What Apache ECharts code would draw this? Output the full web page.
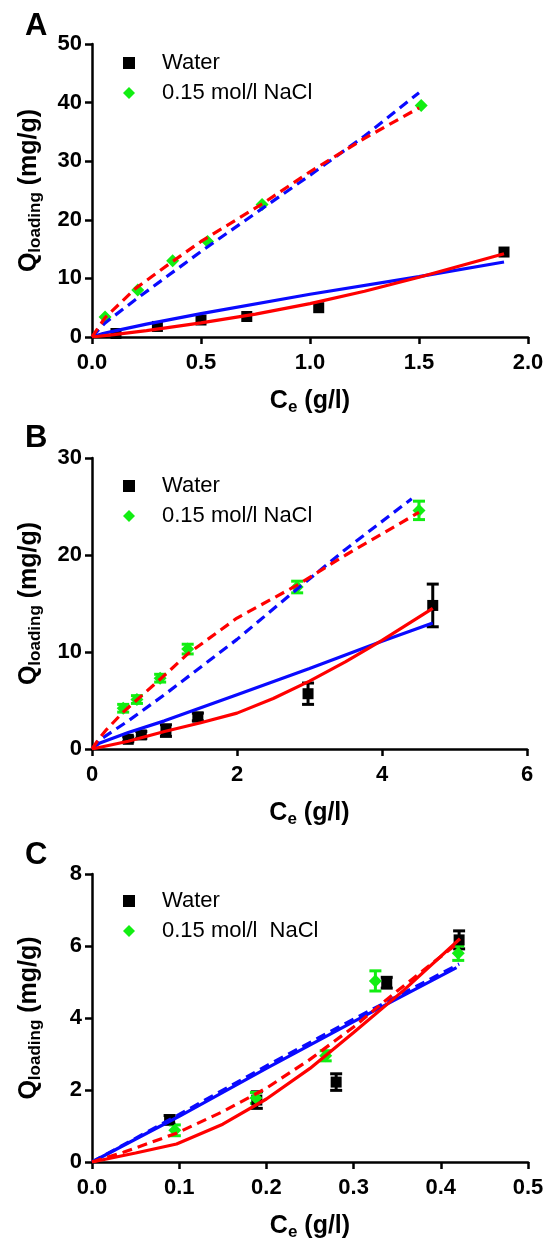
<!DOCTYPE html>
<html><head><meta charset="utf-8">
<script src="https://cdn.jsdelivr.net/npm/echarts@6/dist/echarts.min.js"></script>
<style>html,body{margin:0;padding:0;background:#fff}#c{width:547px;height:1242px}</style>
</head><body><div id="c"></div>
<script>
// ---------- Panel A data ----------
const waterA_x = [0.11, 0.30, 0.50, 0.71, 1.04, 1.89];
const waterA_y = [0.6, 1.8, 2.9, 3.5, 5.0, 14.5];
const naclA_x = [0.06, 0.21, 0.37, 0.53, 0.78, 1.51];
const naclA_y = [3.4, 8.0, 13.0, 16.3, 22.6, 39.5];
const blueSolidA_x = [0, 0.05, 0.1, 0.25, 0.5, 1.0, 1.5, 1.89];
const blueSolidA_y = [0, 0.6, 1.0, 2.2, 4.0, 7.3, 10.3, 12.8];
const redSolidA_x = [0, 0.1, 0.25, 0.5, 0.75, 1.0, 1.25, 1.5, 1.89];
const redSolidA_y = [0, 0.4, 1.1, 2.4, 3.9, 5.7, 7.8, 10.2, 14.2];
const blueDashA_x = [0, 0.06, 0.2, 0.5, 0.78, 1.0, 1.25, 1.5];
const blueDashA_y = [0, 2.4, 6.4, 14.6, 21.9, 27.6, 34.3, 41.7];
const redDashA_x = [0, 0.06, 0.2, 0.37, 0.5, 0.78, 1.0, 1.25, 1.5];
const redDashA_y = [0, 3.3, 8.3, 12.9, 16.3, 22.7, 28.2, 33.9, 39.1];

// ---------- Panel B data ----------
const waterB_x = [0.50, 0.68, 1.02, 1.46, 2.98, 4.70];
const waterB_y = [1.0, 1.45, 1.9, 3.3, 5.7, 14.8];
const waterB_err = [0.25, 0.35, 0.6, 0.4, 1.1, 2.2];
const naclB_x = [0.43, 0.62, 0.94, 1.32, 2.83, 4.51];
const naclB_y = [4.2, 5.1, 7.3, 10.3, 16.7, 24.6];
const naclB_err = [0.4, 0.4, 0.4, 0.5, 0.6, 0.95];
const blueSolidB_x = [0, 0.1, 0.5, 1, 2, 3, 4, 4.7];
const blueSolidB_y = [0, 0.6, 1.7, 2.9, 5.6, 8.3, 11.1, 13.0];
const redSolidB_x = [0, 0.5, 1, 1.5, 2, 2.5, 3, 3.5, 4, 4.7];
const redSolidB_y = [0, 0.8, 1.8, 2.7, 3.7, 5.2, 7.0, 9.0, 11.2, 14.5];
const blueDashB_x = [0, 0.1, 0.5, 1, 2, 2.83, 3.5, 4.41];
const blueDashB_y = [0, 0.9, 2.9, 5.6, 11.3, 16.5, 20.6, 25.8];
const redDashB_x = [0, 0.1, 0.2, 0.43, 1, 1.32, 2, 2.83, 3.5, 4.51];
const redDashB_y = [0, 1.1, 2.0, 3.8, 7.6, 9.8, 13.5, 16.9, 20.0, 24.4];

// ---------- Panel C data ----------
const waterC_x = [0.089, 0.189, 0.280, 0.338, 0.421];
const waterC_y = [1.17, 1.72, 2.22, 4.98, 6.17];
const waterC_err = [0.12, 0.23, 0.23, 0.15, 0.25];
const naclC_x = [0.095, 0.188, 0.268, 0.325, 0.420];
const naclC_y = [0.88, 1.78, 2.95, 5.03, 5.80];
const naclC_err = [0.15, 0.15, 0.14, 0.28, 0.2];
const blueSolidC_x = [0, 0.1, 0.2, 0.3, 0.418];
const blueSolidC_y = [0, 1.27, 2.6, 3.9, 5.4];
const blueDashC_x = [0, 0.1, 0.2, 0.3, 0.421];
const blueDashC_y = [0, 1.32, 2.67, 3.97, 5.5];
const redDashC_x = [0, 0.036, 0.097, 0.15, 0.2, 0.25, 0.3, 0.35, 0.418];
const redDashC_y = [0, 0.27, 0.8, 1.4, 2.05, 2.85, 3.75, 4.75, 6.05];
const redSolidC_x = [0, 0.05, 0.097, 0.15, 0.2, 0.25, 0.3, 0.357, 0.422];
const redSolidC_y = [0, 0.25, 0.5, 1.05, 1.75, 2.6, 3.6, 4.76, 6.2];

// ---------- tick / label text ----------
const panelLabels = ['A', 'B', 'C'];
const legendNames = ['Water', '0.15 mol/l NaCl'];
const legendNamesC = ['Water', '0.15 mol/l  NaCl'];

const F = '"Liberation Sans", Arial, sans-serif';
const BLUE = '#0a0aff', RED = '#ff0000', GREEN = '#12ee12', BLACK = '#000';

function pairs(xs, ys) { return xs.map((x, i) => [x, ys[i]]); }
function errs(xs, ys, es) { return xs.map((x, i) => [x, ys[i] - es[i], ys[i] + es[i]]); }

const grids = [
  {left: 92, top: 44, width: 436, height: 293},
  {left: 92, top: 458, width: 435, height: 291},
  {left: 92, top: 874, width: 436, height: 294}
];

const titleRich = {
  m: {fontSize: 25, fontWeight: 'bold', fontFamily: F, color: '#000'},
  s: {fontSize: 17, fontWeight: 'bold', fontFamily: F, color: '#000', padding: [12, 0, 0, 0]}
};

function xAx(i, min, max, interval, dec) {
  return {
    type: 'value', gridIndex: i, min, max, interval,
    name: '{m|C}{s|e}{m| (g/l)}', nameLocation: 'middle', nameGap: 50,
    nameTextStyle: {rich: titleRich},
    axisLine: {onZero: false, lineStyle: {color: '#000', width: 2.5}},
    axisTick: {length: 7, lineStyle: {width: 2.5, color: '#000'}},
    axisLabel: {formatter: v => v.toFixed(dec), fontSize: 22, fontWeight: 'bold', fontFamily: F, color: '#000', margin: 15},
    splitLine: {show: false}
  };
}
function yAx(i, min, max, interval) {
  return {
    type: 'value', gridIndex: i, min, max, interval,
    name: '{m|Q}{s|loading}{m| (mg/g)}', nameLocation: 'middle', nameGap: 48, nameRotate: 90,
    nameTextStyle: {rich: titleRich},
    axisLine: {onZero: false, lineStyle: {color: '#000', width: 2.5}},
    axisTick: {length: 7, lineStyle: {width: 2.5, color: '#000'}},
    axisLabel: {fontSize: 22, fontWeight: 'bold', fontFamily: F, color: '#000', margin: 10},
    splitLine: {show: false}
  };
}

function lineS(i, xs, ys, color, dashed) {
  return {
    type: 'line', xAxisIndex: i, yAxisIndex: i, data: pairs(xs, ys),
    symbol: 'none', showSymbol: false, silent: true, z: color === RED ? 5 : 4,
    lineStyle: {color, width: 3.2, type: dashed ? [10, 6] : 'solid'}
  };
}
function scat(i, name, xs, ys, color, sym, size) {
  return {
    type: 'scatter', name, xAxisIndex: i, yAxisIndex: i, data: pairs(xs, ys),
    symbol: sym, symbolSize: size, itemStyle: {color, opacity: 1}, z: 2
  };
}
function errS(i, xs, ys, es, color) {
  return {
    type: 'custom', xAxisIndex: i, yAxisIndex: i, data: errs(xs, ys, es), z: 2, silent: true,
    encode: {x: 0, y: [1, 2]},
    renderItem: function (params, api) {
      const x = api.value(0), lo = api.value(1), hi = api.value(2);
      const p1 = api.coord([x, lo]), p2 = api.coord([x, hi]);
      const w = 6;
      const st = {stroke: color, lineWidth: 3};
      return {type: 'group', children: [
        {type: 'line', shape: {x1: p1[0], y1: p1[1], x2: p2[0], y2: p2[1]}, style: st},
        {type: 'line', shape: {x1: p1[0] - w, y1: p1[1], x2: p1[0] + w, y2: p1[1]}, style: st},
        {type: 'line', shape: {x1: p2[0] - w, y1: p2[1], x2: p2[0] + w, y2: p2[1]}, style: st}
      ]};
    }
  };
}

function legendAt(top, names) {
  return {
    orient: 'vertical', left: 118, top, itemWidth: 12, itemHeight: 12, itemGap: 8,
    selectedMode: false,
    data: [{name: legendNames[0], icon: 'rect'}, {name: legendNames[1], icon: 'diamond'}],
    formatter: n => names[legendNames.indexOf(n)],
    textStyle: {fontSize: 22, fontFamily: F, color: '#000', padding: [0, 0, 0, 22]}
  };
}

const series = [
  scat(0, legendNames[0], waterA_x, waterA_y, BLACK, 'rect', 11),
  scat(0, legendNames[1], naclA_x, naclA_y, GREEN, 'diamond', 13),
  lineS(0, blueSolidA_x, blueSolidA_y, BLUE, false),
  lineS(0, redSolidA_x, redSolidA_y, RED, false),
  lineS(0, blueDashA_x, blueDashA_y, BLUE, true),
  lineS(0, redDashA_x, redDashA_y, RED, true),

  errS(1, waterB_x, waterB_y, waterB_err, BLACK),
  errS(1, naclB_x, naclB_y, naclB_err, GREEN),
  scat(1, legendNames[0], waterB_x, waterB_y, BLACK, 'rect', 11),
  scat(1, legendNames[1], naclB_x, naclB_y, GREEN, 'diamond', 13),
  lineS(1, blueSolidB_x, blueSolidB_y, BLUE, false),
  lineS(1, redSolidB_x, redSolidB_y, RED, false),
  lineS(1, blueDashB_x, blueDashB_y, BLUE, true),
  lineS(1, redDashB_x, redDashB_y, RED, true),

  errS(2, waterC_x, waterC_y, waterC_err, BLACK),
  errS(2, naclC_x, naclC_y, naclC_err, GREEN),
  scat(2, legendNames[0], waterC_x, waterC_y, BLACK, 'rect', 11),
  scat(2, legendNames[1], naclC_x, naclC_y, GREEN, 'diamond', 13),
  lineS(2, blueSolidC_x, blueSolidC_y, BLUE, false),
  lineS(2, blueDashC_x, blueDashC_y, BLUE, true),
  lineS(2, redDashC_x, redDashC_y, RED, true),
  lineS(2, redSolidC_x, redSolidC_y, RED, false)
];

const chart = echarts.init(document.getElementById('c'), null, {renderer: 'canvas'});
chart.setOption({
  backgroundColor: '#fff',
  animation: false,
  title: [
    {text: panelLabels[0], left: 20, top: 6, textStyle: {fontSize: 31, fontWeight: 'bold', fontFamily: F, color: '#000'}},
    {text: panelLabels[1], left: 20, top: 418, textStyle: {fontSize: 31, fontWeight: 'bold', fontFamily: F, color: '#000'}},
    {text: panelLabels[2], left: 20, top: 835, textStyle: {fontSize: 31, fontWeight: 'bold', fontFamily: F, color: '#000'}}
  ],
  legend: [legendAt(47, legendNames), legendAt(470, legendNames), legendAt(885, legendNamesC)],
  grid: grids,
  xAxis: [xAx(0, 0, 2, 0.5, 1), xAx(1, 0, 6, 2, 0), xAx(2, 0, 0.5, 0.1, 1)],
  yAxis: [yAx(0, 0, 50, 10), yAx(1, 0, 30, 10), yAx(2, 0, 8, 2)],
  series
});
</script></body></html>
